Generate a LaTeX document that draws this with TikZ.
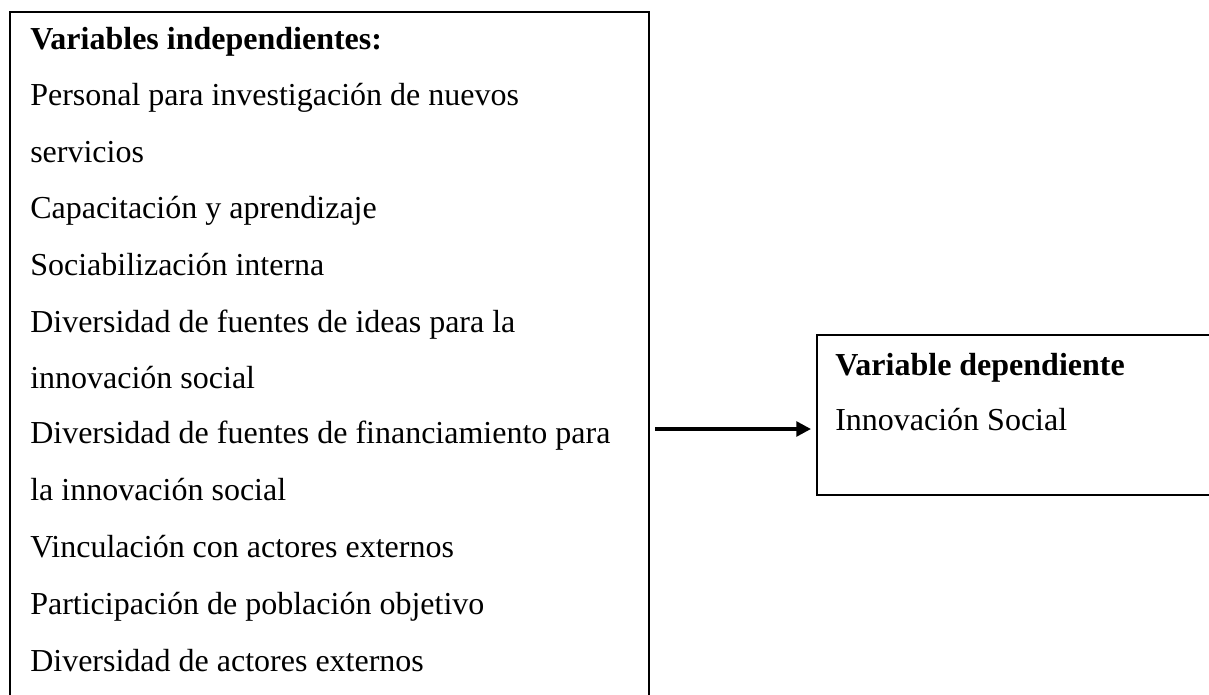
\documentclass[tikz,border=0pt]{standalone}
\usepackage{fontspec}
\setmainfont{Liberation Serif}
\usetikzlibrary{arrows.meta}
\begin{document}
\begin{tikzpicture}[x=0.75pt,y=-0.75pt,
  boxline/.style={draw=black,line width=1.5pt,rectangle,inner sep=0pt},
  txt/.style={anchor=base west,inner sep=0pt,font=\fontsize{24pt}{28pt}\selectfont},
  hdr/.style={txt,font=\fontsize{24pt}{28pt}\selectfont\bfseries},
  conn/.style={line width=2.6pt,-{Triangle[length=11pt,width=11pt]}}]
\useasboundingbox (0,0) rectangle (1209,695);
\node[boxline,anchor=north west,minimum width=479.25pt,minimum height=540pt] (indep) at (9,11) {};
\node[boxline,anchor=north west,minimum width=330pt,minimum height=120pt] (dep) at (816,334) {};
\node[hdr] (t0) at (30,50) {Variables independientes:};
\node[txt] (t1) at (30,106) {Personal para investigación de nuevos};
\node[txt] (t2) at (30,162.5) {servicios};
\node[txt] (t3) at (30,219) {Capacitación y aprendizaje};
\node[txt] (t4) at (30,275.5) {Sociabilización interna};
\node[txt] (t5) at (30,332) {Diversidad de fuentes de ideas para la};
\node[txt] (t6) at (30,388) {innovación social};
\node[txt] (t7) at (30,443) {Diversidad de fuentes de financiamiento para};
\node[txt] (t8) at (30,500) {la innovación social};
\node[txt] (t9) at (30,557) {Vinculación con actores externos};
\node[txt] (t10) at (30,614) {Participación de población objetivo};
\node[txt] (t11) at (30,671) {Diversidad de actores externos};
\node[hdr] (d0) at (835,375) {Variable dependiente};
\node[txt] (d1) at (835,430) {Innovación Social};
\coordinate (ay) at (0,429);
\draw[conn,shorten <=3.75pt,shorten >=3.75pt] (indep.east |- ay) -- (dep.west |- ay);
\end{tikzpicture}
\end{document}
